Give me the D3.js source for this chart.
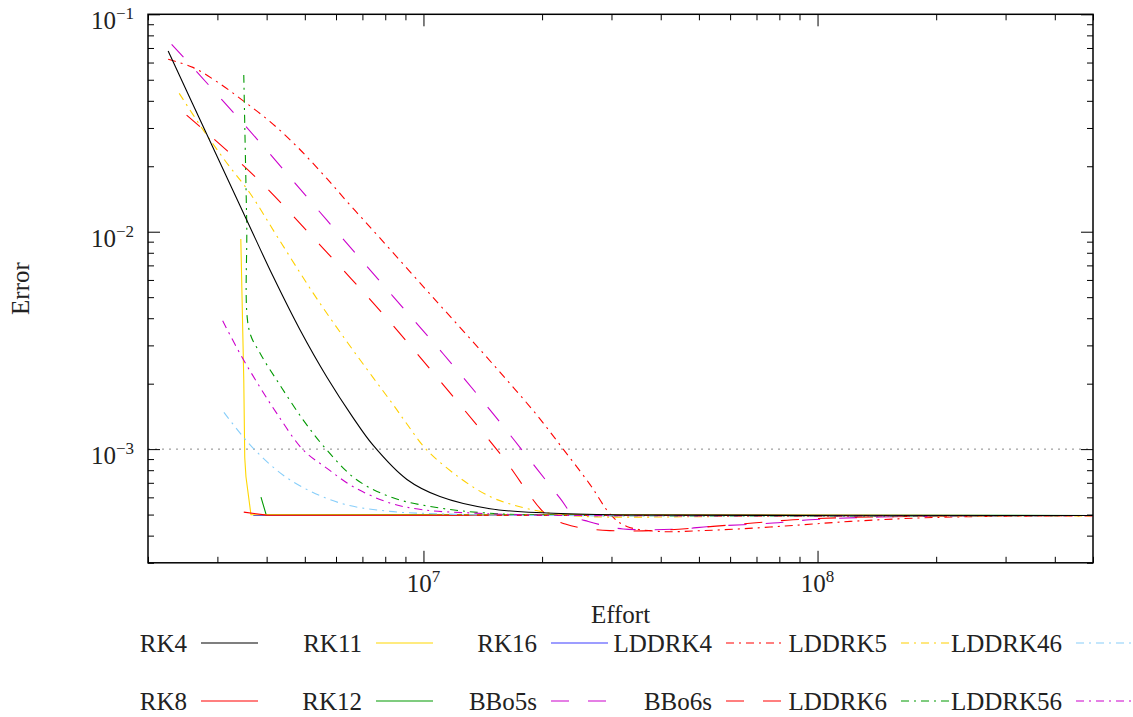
<!DOCTYPE html>
<html><head><meta charset="utf-8">
<script src="https://cdn.jsdelivr.net/npm/d3@7"></script>
<style>
body{margin:0;background:#fff;}
svg{display:block;font-family:"Liberation Serif","Times New Roman",serif;}
</style></head><body>
<svg id="chart" width="1133" height="717"></svg>
<script>
// ---------- data ----------
const xDomain = [2e6, 5e8];
const yDomain = [3e-4, 1e-1];
const xMajorTicks = [1e7, 1e8];
const yMajorTicks = [1e-3, 1e-2, 1e-1];
const referenceError = 1e-3;
const xLabel = "Effort";
const yLabel = "Error";

const legendRow1 = ["RK4", "RK11", "RK16", "LDDRK4", "LDDRK5", "LDDRK46"];
const legendRow2 = ["RK8", "RK12", "BBo5s", "BBo6s", "LDDRK6", "LDDRK56"];
const drawOrder = ["RK16", "RK12", "RK11", "RK8", "BBo5s", "LDDRK4", "BBo6s", "LDDRK5", "LDDRK6", "LDDRK46", "LDDRK56", "RK4"];

const RK4_effort = [2.25e6, 2.87e6, 3.56e6, 4.15e6, 4.86e6, 5.69e6, 6.62e6, 7.44e6, 9.08e6, 1.101e7, 1.475e7, 2.06e7, 3.15e7, 5e8];
const RK4_error  = [6.78e-2, 2.62e-2, 1.133e-2, 6.25e-3, 3.54e-3, 2.14e-3, 1.40e-3, 1.045e-3, 7.25e-4, 6.05e-4, 5.32e-4, 5.08e-4, 4.98e-4, 4.95e-4];

const RK8_effort = [3.50e6, 4.0e6, 5e8];
const RK8_error  = [5.13e-4, 4.97e-4, 4.95e-4];

const RK11_effort = [3.44e6, 3.50e6, 3.52e6, 3.545e6, 3.65e6, 5e8];
const RK11_error  = [9.25e-3, 2.08e-3, 9.12e-4, 7.46e-4, 4.99e-4, 4.95e-4];

const RK12_effort = [3.87e6, 3.985e6, 5e8];
const RK12_error  = [6.02e-4, 5.02e-4, 4.95e-4];

const RK16_effort = [3.70e6, 5e8];
const RK16_error  = [4.95e-4, 4.95e-4];

const BBo5s_effort = [2.296e6, 3.56e6, 5.68e6, 8.38e6, 1.119e7, 1.475e7, 1.81e7, 2.22e7, 2.42e7, 2.62e7, 2.89e7, 3.21e7, 4.48e7, 5.34e7, 7.71e7, 9.57e7, 1.441e8, 5e8];
const BBo5s_error  = [7.28e-2, 3.02e-2, 1.133e-2, 5.03e-3, 2.76e-3, 1.516e-3, 9.52e-4, 5.95e-4, 4.88e-4, 4.65e-4, 4.44e-4, 4.29e-4, 4.29e-4, 4.41e-4, 4.57e-4, 4.73e-4, 4.87e-4, 4.95e-4];

const BBo6s_effort = [2.506e6, 3.74e6, 5.46e6, 7.86e6, 1.123e7, 1.585e7, 2.05e7, 2.29e7, 2.54e7, 2.97e7, 3.98e7, 5.43e7, 6.86e7, 8.67e7, 1.21e8, 2.17e8, 5e8];
const BBo6s_error  = [3.44e-2, 1.792e-2, 8.70e-3, 4.22e-3, 1.975e-3, 9.25e-4, 4.99e-4, 4.52e-4, 4.33e-4, 4.22e-4, 4.23e-4, 4.41e-4, 4.57e-4, 4.73e-4, 4.85e-4, 4.92e-4, 4.95e-4];

const LDDRK4_effort = [2.25e6, 2.60e6, 2.99e6, 3.49e6, 4.08e6, 4.77e6, 5.57e6, 6.51e6, 7.76e6, 9.99e6, 1.19e7, 1.418e7, 1.658e7, 1.938e7, 2.26e7, 2.65e7, 3.00e7, 3.28e7, 3.98e7, 5.12e7, 6.86e7, 9.19e7, 1.21e8, 1.786e8, 2.63e8, 5e8];
const LDDRK4_error  = [6.21e-2, 5.70e-2, 4.90e-2, 4.00e-2, 3.21e-2, 2.47e-2, 1.83e-2, 1.328e-2, 9.34e-3, 5.59e-3, 3.93e-3, 2.76e-3, 2.00e-3, 1.438e-3, 1.003e-3, 6.85e-4, 4.94e-4, 4.41e-4, 4.18e-4, 4.22e-4, 4.33e-4, 4.49e-4, 4.65e-4, 4.82e-4, 4.90e-4, 4.93e-4];

const LDDRK5_effort = [2.40e6, 2.76e6, 3.17e6, 3.63e6, 4.28e6, 5.25e6, 6.26e6, 7.46e6, 8.38e6, 9.07e6, 1.019e7, 1.238e7, 1.475e7, 1.69e7, 2.05e7, 2.50e7, 6.36e7, 5e8];
const LDDRK5_error  = [4.33e-2, 2.94e-2, 2.07e-2, 1.503e-2, 9.34e-3, 5.22e-3, 3.29e-3, 2.127e-3, 1.60e-3, 1.308e-3, 9.93e-4, 7.36e-4, 6.05e-4, 5.54e-4, 5.11e-4, 4.91e-4, 4.90e-4, 4.93e-4];

const LDDRK46_effort = [3.117e6, 3.69e6, 4.58e6, 6.14e6, 8.22e6, 1.10e7, 1.5e7, 5e8];
const LDDRK46_error  = [1.476e-3, 1.014e-3, 7.23e-4, 5.65e-4, 5.17e-4, 5.04e-4, 4.97e-4, 4.95e-4];

const LDDRK6_effort = [3.50e6, 3.56e6, 3.61e6, 3.85e6, 4.32e6, 4.95e6, 5.68e6, 6.77e6, 8.37e6, 1.10e7, 1.45e7, 2.1e7, 5e8];
const LDDRK6_error  = [5.26e-2, 1.133e-2, 3.54e-3, 2.76e-3, 1.975e-3, 1.364e-3, 9.93e-4, 7.23e-4, 5.97e-4, 5.36e-4, 5.08e-4, 4.97e-4, 4.95e-4];

const LDDRK56_effort = [3.094e6, 3.42e6, 3.77e6, 4.24e6, 4.95e6, 5.68e6, 6.62e6, 8.22e6, 9.97e6, 1.335e7, 2.0e7, 5e8];
const LDDRK56_error  = [3.89e-3, 2.76e-3, 2.045e-3, 1.464e-3, 9.93e-4, 8.18e-4, 6.73e-4, 5.65e-4, 5.26e-4, 5.08e-4, 4.97e-4, 4.95e-4];

// ---------- build table ----------
const seriesData = {
  RK4: [RK4_effort, RK4_error], RK8: [RK8_effort, RK8_error], RK11: [RK11_effort, RK11_error],
  RK12: [RK12_effort, RK12_error], RK16: [RK16_effort, RK16_error], BBo5s: [BBo5s_effort, BBo5s_error],
  BBo6s: [BBo6s_effort, BBo6s_error], LDDRK4: [LDDRK4_effort, LDDRK4_error], LDDRK5: [LDDRK5_effort, LDDRK5_error],
  LDDRK46: [LDDRK46_effort, LDDRK46_error], LDDRK6: [LDDRK6_effort, LDDRK6_error], LDDRK56: [LDDRK56_effort, LDDRK56_error]
};

// ---------- styles ----------
const DASH = "18,19", DASHDOT = "8,5,2,5";
const styles = {
  RK4: {c: "#000000", d: null, s: true}, RK8: {c: "#ff0000", d: null, s: false}, RK11: {c: "#ffd700", d: null, s: false},
  RK12: {c: "#009900", d: null, s: false}, RK16: {c: "#3c3cff", d: null, s: false},
  BBo5s: {c: "#cc00cc", d: DASH, s: true}, BBo6s: {c: "#ff0000", d: DASH, s: true},
  LDDRK4: {c: "#ff0000", d: DASHDOT, s: true}, LDDRK5: {c: "#ffd000", d: DASHDOT, s: true}, LDDRK46: {c: "#87cefa", d: DASHDOT, s: true},
  LDDRK6: {c: "#009900", d: DASHDOT, s: true}, LDDRK56: {c: "#cc00cc", d: DASHDOT, s: true}
};

// ---------- layout ----------
const L = 148, R = 1093, T = 14.3, B = 562.8;
const FS = 25;
const svg = d3.select("#chart");
const x = d3.scaleLog().domain(xDomain).range([L, R]);
const y = d3.scaleLog().domain(yDomain).range([B, T]);

svg.append("defs").append("clipPath").attr("id", "clip")
  .append("rect").attr("x", L).attr("y", T).attr("width", R - L).attr("height", B - T);

// reference dotted line
svg.append("line").attr("x1", L).attr("x2", R).attr("y1", y(referenceError)).attr("y2", y(referenceError))
  .attr("stroke", "#888").attr("stroke-width", 1).attr("stroke-dasharray", "2,5");

// axes
const xMinor = x.ticks().filter(v => !xMajorTicks.some(m => Math.abs(m - v) / m < 1e-6));
const yMinor = y.ticks().filter(v => !yMajorTicks.some(m => Math.abs(m - v) / m < 1e-6));
function addAxis(axisFn, scale, vals, size, tr) {
  const g = svg.append("g").attr("transform", tr)
    .call(axisFn(scale).tickValues(vals).tickSize(size).tickFormat(""));
  g.select(".domain").remove();
  g.selectAll(".tick line").attr("stroke", "#000").attr("stroke-width", 1);
  return g;
}
addAxis(d3.axisBottom, x, xMajorTicks, -12, `translate(0,${B})`);
addAxis(d3.axisBottom, x, xMinor, -6, `translate(0,${B})`);
addAxis(d3.axisTop, x, xMajorTicks, -12, `translate(0,${T})`);
addAxis(d3.axisTop, x, xMinor, -6, `translate(0,${T})`);
addAxis(d3.axisLeft, y, yMajorTicks, -12, `translate(${L},0)`);
addAxis(d3.axisLeft, y, yMinor, -6, `translate(${L},0)`);
addAxis(d3.axisRight, y, yMajorTicks, -12, `translate(${R},0)`);
addAxis(d3.axisRight, y, yMinor, -6, `translate(${R},0)`);

// tick labels
function powLabel(sel, v) {
  const e = Math.round(Math.log10(v));
  sel.append("tspan").text("10");
  sel.append("tspan").attr("font-size", 17).attr("dy", -10).text(e < 0 ? "\u2212" + (-e) : String(e));
}
xMajorTicks.forEach(v => {
  const t = svg.append("text").attr("x", x(v)).attr("y", B + 29).attr("text-anchor", "middle")
    .attr("font-size", FS).attr("fill", "#222");
  powLabel(t, v);
});
yMajorTicks.forEach(v => {
  const t = svg.append("text").attr("x", L - 14).attr("y", y(v) + 15).attr("text-anchor", "end")
    .attr("font-size", FS).attr("fill", "#222");
  powLabel(t, v);
});

// axis titles
svg.append("text").attr("x", (L + R) / 2).attr("y", 623).attr("text-anchor", "middle")
  .attr("font-size", FS).attr("fill", "#222").text(xLabel);
svg.append("text").attr("transform", `translate(29,${(T + B) / 2}) rotate(-90)`).attr("text-anchor", "middle")
  .attr("font-size", FS).attr("fill", "#222").text(yLabel);

// series
const smoothLine = d3.line().x(d => x(d[0])).y(d => y(d[1])).curve(d3.curveCatmullRom.alpha(0.5));
const straightLine = d3.line().x(d => x(d[0])).y(d => y(d[1]));
const plot = svg.append("g").attr("clip-path", "url(#clip)");
drawOrder.forEach(name => {
  const [ex, er] = seriesData[name];
  const pts = ex.map((v, i) => [v, er[i]]);
  const st = styles[name];
  plot.append("path").datum(pts).attr("d", st.s ? smoothLine : straightLine).attr("fill", "none")
    .attr("stroke", st.c).attr("stroke-width", 1.1)
    .attr("stroke-dasharray", st.d);
});

// frame
svg.append("rect").attr("x", L).attr("y", T).attr("width", R - L).attr("height", B - T)
  .attr("fill", "none").attr("stroke", "#000").attr("stroke-width", 1.5);

// legend
const legendX0 = 201, legendStep = 175, sampleLen = 57;
[[legendRow1, 643], [legendRow2, 701]].forEach(([row, ly]) => {
  row.forEach((name, k) => {
    const sx = legendX0 + k * legendStep;
    const st = styles[name];
    svg.append("text").attr("x", sx - 14).attr("y", ly + 9).attr("text-anchor", "end")
      .attr("font-size", FS).attr("fill", "#222").text(name);
    svg.append("line").attr("x1", sx).attr("x2", sx + sampleLen).attr("y1", ly).attr("y2", ly)
      .attr("stroke", st.c).attr("stroke-width", 1.2).attr("stroke-dasharray", st.d);
  });
});
</script>
</body></html>
